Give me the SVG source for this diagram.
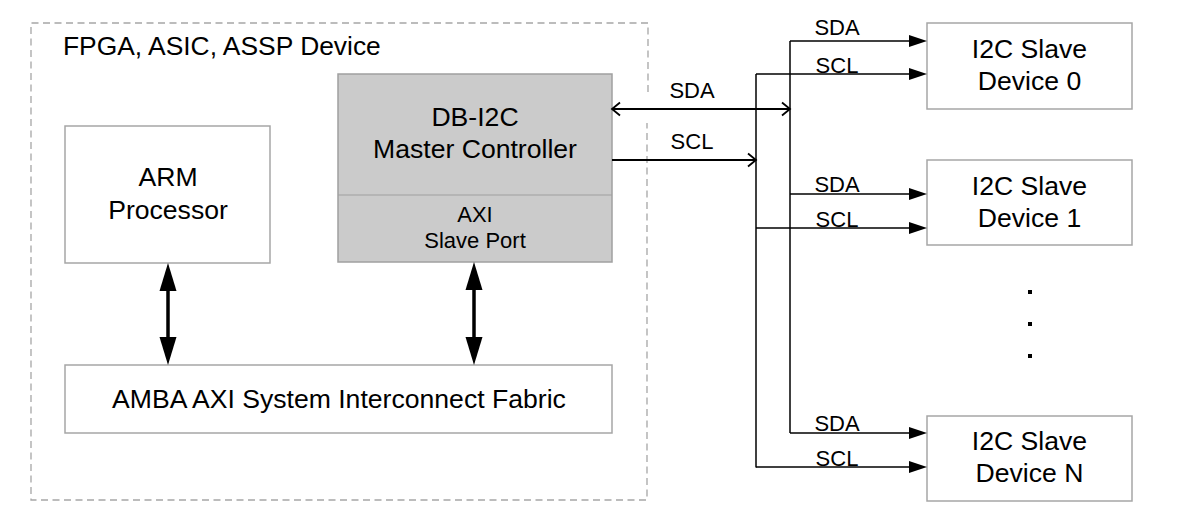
<svg xmlns="http://www.w3.org/2000/svg" width="1186" height="520" viewBox="0 0 1186 520">
<style>
text{font-family:"Liberation Sans",Arial,sans-serif;fill:#000}
.big{font-size:26.6px;text-anchor:middle}
.mid{font-size:22px;text-anchor:middle}
.sig{font-size:22px;text-anchor:middle}
.box{fill:#fff;stroke:#a6a6a6;stroke-width:1.5}
.gbox{fill:#cbcbcb;stroke:#a0a0a0;stroke-width:1.5}
.dash{fill:none;stroke:#a6a6a6;stroke-width:1.3;stroke-dasharray:7 4.5}
.wire{fill:none;stroke:#000;stroke-width:1.5}
.bus{fill:none;stroke:#000;stroke-width:2.2}
.thick{fill:none;stroke:#000;stroke-width:3.5}
</style>
<defs>
<marker id="open" viewBox="-10 -8 12 16" markerWidth="12" markerHeight="16" refX="0" refY="0" markerUnits="userSpaceOnUse" orient="auto-start-reverse">
<path d="M-8,-6.5 L0,0 L-8,6.5" fill="none" stroke="#000" stroke-width="1.8"/>
</marker>
<marker id="fill" viewBox="-14 -7 20 14" markerWidth="20" markerHeight="14" refX="0" refY="0" markerUnits="userSpaceOnUse" orient="auto">
<path d="M-13,-6 L5,0 L-13,6 Z" fill="#000"/>
</marker>
<marker id="big" viewBox="-19 -10 30 20" markerWidth="30" markerHeight="20" refX="0" refY="0" markerUnits="userSpaceOnUse" orient="auto-start-reverse">
<path d="M-18,-8.5 L10,0 L-18,8.5 Z" fill="#000"/>
</marker>
</defs>

<g id="fpga-device">
<path class="dash" d="M648,92 V23 H31 V500 H647 V123"/>
<text x="63" y="55" style="font-size:26.4px">FPGA, ASIC, ASSP Device</text>
</g>

<g id="arm">
<rect class="box" x="65" y="126" width="205" height="137"/>
<text class="big" x="168" y="186">ARM</text>
<text class="big" x="168" y="219">Processor</text>
</g>

<g id="db-i2c">
<rect class="gbox" x="338" y="74" width="274" height="188"/>
<line x1="338" y1="195" x2="612" y2="195" stroke="#a0a0a0" stroke-width="1.2"/>
<text class="big" x="475" y="126">DB-I2C</text>
<text class="big" x="475" y="158">Master Controller</text>
<text class="mid" x="475" y="222">AXI</text>
<text class="mid" x="475" y="248">Slave Port</text>
</g>

<g id="amba">
<rect class="box" x="65" y="365" width="547" height="68"/>
<text class="big" x="339" y="408">AMBA AXI System Interconnect Fabric</text>
</g>

<g id="slave0">
<rect class="box" x="927" y="23" width="205" height="86"/>
<text class="big" x="1029.5" y="58">I2C Slave</text>
<text class="big" x="1029.5" y="90">Device 0</text>
</g>

<g id="slave1">
<rect class="box" x="927" y="160" width="205" height="85"/>
<text class="big" x="1029.5" y="194.5">I2C Slave</text>
<text class="big" x="1029.5" y="227">Device 1</text>
</g>

<g id="slaveN">
<rect class="box" x="927" y="416" width="205" height="85"/>
<text class="big" x="1029.5" y="450">I2C Slave</text>
<text class="big" x="1029.5" y="482">Device N</text>
</g>

<g id="ellipsis" fill="#000">
<rect x="1028" y="290" width="4" height="4"/>
<rect x="1028" y="322" width="4" height="4"/>
<rect x="1028" y="354" width="4" height="4"/>
</g>

<g id="connectors">
<line class="thick" x1="168" y1="273" x2="168" y2="355" marker-start="url(#big)" marker-end="url(#big)"/>
<line class="thick" x1="474" y1="272" x2="474" y2="355" marker-start="url(#big)" marker-end="url(#big)"/>

<line class="bus" x1="612" y1="109" x2="790" y2="109" marker-start="url(#open)" marker-end="url(#open)"/>
<text class="sig" x="692" y="98">SDA</text>
<line class="bus" x1="612" y1="160" x2="756" y2="160" marker-end="url(#open)"/>
<text class="sig" x="692" y="149">SCL</text>

<line class="wire" x1="756" y1="74" x2="756" y2="467.5"/>
<line class="wire" x1="790" y1="41" x2="790" y2="433"/>

<line class="wire" x1="790" y1="41" x2="922" y2="41" marker-end="url(#fill)"/>
<text class="sig" x="837" y="35">SDA</text>
<line class="wire" x1="756" y1="74" x2="922" y2="74" marker-end="url(#fill)"/>
<text class="sig" x="837" y="73">SCL</text>

<line class="wire" x1="790" y1="194" x2="922" y2="194" marker-end="url(#fill)"/>
<text class="sig" x="837" y="192">SDA</text>
<line class="wire" x1="756" y1="228" x2="922" y2="228" marker-end="url(#fill)"/>
<text class="sig" x="837" y="227">SCL</text>

<line class="wire" x1="790" y1="433" x2="922" y2="433" marker-end="url(#fill)"/>
<text class="sig" x="837" y="431">SDA</text>
<line class="wire" x1="756" y1="467" x2="922" y2="467" marker-end="url(#fill)"/>
<text class="sig" x="837" y="466">SCL</text>
</g>
</svg>
